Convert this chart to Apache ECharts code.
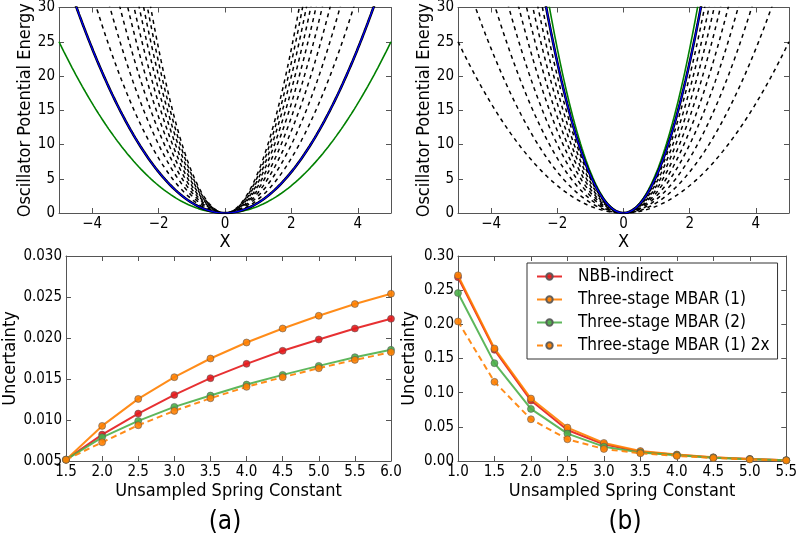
<!DOCTYPE html>
<html><head><meta charset="utf-8">
<script src="https://cdn.jsdelivr.net/npm/echarts@6/dist/echarts.min.js"></script>
<style>html,body{margin:0;padding:0;background:#fff}#c{width:800px;height:534px}</style>
</head><body><div id="c"></div>
<script>
// ---- Top panels: harmonic potentials U = k x^2, spring constants ----
const sampledK_a = [1.0, 1.5];          // green, blue (panel a)
const unsampledK_a = [1.5, 2.0, 2.5, 3.0, 3.5, 4.0, 4.5, 5.0, 5.5, 6.0];
const sampledK_b = [6.0, 5.5];          // green, blue (panel b)
const unsampledK_b = [1.0, 1.5, 2.0, 2.5, 3.0, 3.5, 4.0, 4.5, 5.0, 5.5];
const potentialXTicks = [-4, -2, 0, 2, 4];

// ---- Bottom panel (a) ----
const springA = [1.5, 2.0, 2.5, 3.0, 3.5, 4.0, 4.5, 5.0, 5.5, 6.0];
const nbbA   = [0.00516, 0.00822, 0.01078, 0.01306, 0.01510, 0.01685, 0.01844, 0.01982, 0.02116, 0.02234];
const mbar1A = [0.00516, 0.00928, 0.01257, 0.01522, 0.01750, 0.01945, 0.02116, 0.02271, 0.02414, 0.02540];
const mbar2A = [0.00516, 0.00789, 0.00989, 0.01160, 0.01298, 0.01432, 0.01550, 0.01660, 0.01766, 0.01856];
const mbar1x2A = [0.00516, 0.00728, 0.00936, 0.01111, 0.01265, 0.01404, 0.01522, 0.01632, 0.01733, 0.01827];

// ---- Bottom panel (b) ----
const springB = [1.0, 1.5, 2.0, 2.5, 3.0, 3.5, 4.0, 4.5, 5.0, 5.5];
const nbbB   = [0.269, 0.1627, 0.0884, 0.0454, 0.0244, 0.0135, 0.0090, 0.0050, 0.0028, 0.0011];
const mbar1B = [0.2717, 0.1647, 0.0914, 0.0489, 0.0264, 0.0146, 0.0095, 0.0055, 0.0030, 0.0012];
const mbar2B = [0.2458, 0.1432, 0.0762, 0.0401, 0.0210, 0.0125, 0.0085, 0.0048, 0.0027, 0.0010];
const mbar1x2B = [0.2042, 0.1158, 0.0611, 0.0318, 0.0176, 0.0112, 0.0075, 0.0043, 0.0023, 0.0009];

const seriesNames = ['NBB-indirect', 'Three-stage MBAR (1)', 'Three-stage MBAR (2)', 'Three-stage MBAR (1) 2x'];
const seriesColors = ['#e41a1c', '#ff7f00', '#4daf4a', '#ff7f00'];

const FONT = "'DejaVu Sans Condensed', 'DejaVu Sans', sans-serif";
const AX = '#555';

function curve(k) {
  const pts = [];
  for (let i = -200; i <= 200; i++) { const x = i / 40; pts.push([x, k * x * x]); }
  return pts;
}
function minusFmt(v) { return v < 0 ? '\u2212' + Math.abs(v) : String(v); }

const grids = [
  {left: 59, width: 332, top: 6, height: 207},
  {left: 458, width: 331, top: 6, height: 207},
  {left: 59, width: 332, top: 256, height: 205},
  {left: 458, width: 331, top: 256, height: 205}
];

const xAxes = [], yAxes = [];
function addAxes(gi, xo, yo) {
  const tick = {show: true, inside: true, length: 5, lineStyle: {color: AX}};
  const line = {show: true, onZero: false, lineStyle: {color: AX, width: 1}};
  const lab = {color: '#000', fontFamily: FONT, fontSize: 15};
  xAxes.push(Object.assign({type: 'value', gridIndex: gi, position: 'bottom', axisLine: line,
    axisTick: Object.assign({}, tick, xo.tickVals ? {customValues: xo.tickVals} : {}),
    axisLabel: Object.assign({}, lab, {margin: 4, formatter: xo.fmt}, xo.tickVals ? {customValues: xo.tickVals} : {}),
    splitLine: {show: false}, name: xo.name, nameLocation: 'middle', nameGap: xo.gap,
    nameTextStyle: {color: '#000', fontFamily: FONT, fontSize: 18}}, xo.range));
  xAxes.push(Object.assign({type: 'value', gridIndex: gi, position: 'top', axisLine: line,
    axisTick: Object.assign({}, tick, xo.tickVals ? {customValues: xo.tickVals} : {}),
    axisLabel: {show: false}, splitLine: {show: false}}, xo.range));
  yAxes.push(Object.assign({type: 'value', gridIndex: gi, position: 'left', axisLine: line, axisTick: tick,
    axisLabel: Object.assign({}, lab, {margin: 4, formatter: yo.fmt}),
    splitLine: {show: false}, name: yo.name, nameLocation: 'middle', nameGap: yo.gap, nameRotate: 90,
    nameTextStyle: {color: '#000', fontFamily: FONT, fontSize: 18}}, yo.range));
  yAxes.push(Object.assign({type: 'value', gridIndex: gi, position: 'right', axisLine: line, axisTick: tick,
    axisLabel: {show: false}, splitLine: {show: false}}, yo.range));
}
addAxes(0, {range: {min: -5, max: 5}, tickVals: potentialXTicks, fmt: minusFmt, name: 'X', gap: 19},
           {range: {min: 0, max: 30, interval: 5}, fmt: v => String(v), name: 'Oscillator Potential Energy', gap: 22});
addAxes(1, {range: {min: -5, max: 5}, tickVals: potentialXTicks, fmt: minusFmt, name: 'X', gap: 19},
           {range: {min: 0, max: 30, interval: 5}, fmt: v => String(v), name: 'Oscillator Potential Energy', gap: 22});
addAxes(2, {range: {min: 1.5, max: 6.0, interval: 0.5}, fmt: v => v.toFixed(1), name: 'Unsampled Spring Constant', gap: 21},
           {range: {min: 0.005, max: 0.030, interval: 0.005}, fmt: v => v.toFixed(3), name: 'Uncertainty', gap: 47});
addAxes(3, {range: {min: 1.0, max: 5.5, interval: 0.5}, fmt: v => v.toFixed(1), name: 'Unsampled Spring Constant', gap: 21},
           {range: {min: 0, max: 0.30, interval: 0.05}, fmt: v => v.toFixed(2), name: 'Uncertainty', gap: 40});

const series = [];
function potentialPanel(gi, sampled, unsampled) {
  const xi = gi * 2, yi = gi * 2;
  const base = {type: 'line', xAxisIndex: xi, yAxisIndex: yi, showSymbol: false, silent: true, clip: true};
  series.push(Object.assign({}, base, {data: curve(sampled[0]), lineStyle: {color: '#008000', width: 1.6}, z: 3}));
  unsampled.forEach(k => series.push(Object.assign({}, base, {data: curve(k), lineStyle: {color: '#000', width: 1.5, type: [4, 4]}, z: 2})));
  series.push(Object.assign({}, base, {data: curve(sampled[1]), lineStyle: {color: '#000', width: 2.6}, z: 3}));
  series.push(Object.assign({}, base, {data: curve(sampled[1]), lineStyle: {color: '#0000ff', width: 1.2}, z: 4}));
}
potentialPanel(0, sampledK_a, unsampledK_a);
potentialPanel(1, sampledK_b, unsampledK_b);

function uncPanel(gi, xs, arrs) {
  arrs.forEach((arr, i) => {
    series.push({
      type: 'line', name: seriesNames[i], xAxisIndex: gi * 2, yAxisIndex: gi * 2,
      data: xs.map((x, j) => [x, arr[j]]),
      symbol: 'circle', symbolSize: 7, showSymbol: true,
      lineStyle: {color: seriesColors[i], width: 2, type: i === 3 ? [6, 4] : 'solid', opacity: 0.9},
      itemStyle: {color: seriesColors[i], borderColor: '#555', borderWidth: 0.6, opacity: 0.9},
      z: 5 + i
    });
  });
}
uncPanel(2, springA, [nbbA, mbar1A, mbar2A, mbar1x2A]);
uncPanel(3, springB, [nbbB, mbar1B, mbar2B, mbar1x2B]);

const chart = echarts.init(document.getElementById('c'), null, {renderer: 'canvas'});
chart.setOption({
  animation: false,
  backgroundColor: '#fff',
  grid: grids,
  xAxis: xAxes,
  yAxis: yAxes,
  legend: {
    data: seriesNames, orient: 'vertical', left: 527, top: 263,
    itemWidth: 25, itemHeight: 8, itemGap: 6, padding: [5, 8, 5, 9],
    borderColor: '#333', borderWidth: 1, backgroundColor: '#fff',
    textStyle: {color: '#000', fontFamily: FONT, fontSize: 17, padding: [0, 0, 0, 11]},
    selectedMode: false
  },
  series: series,
  graphic: [
    {type: 'text', style: {text: '(a)', x: 225, y: 522, align: 'center', verticalAlign: 'middle', font: "26px " + FONT, fill: '#000'}},
    {type: 'text', style: {text: '(b)', x: 625, y: 522, align: 'center', verticalAlign: 'middle', font: "26px " + FONT, fill: '#000'}}
  ]
});
</script></body></html>
